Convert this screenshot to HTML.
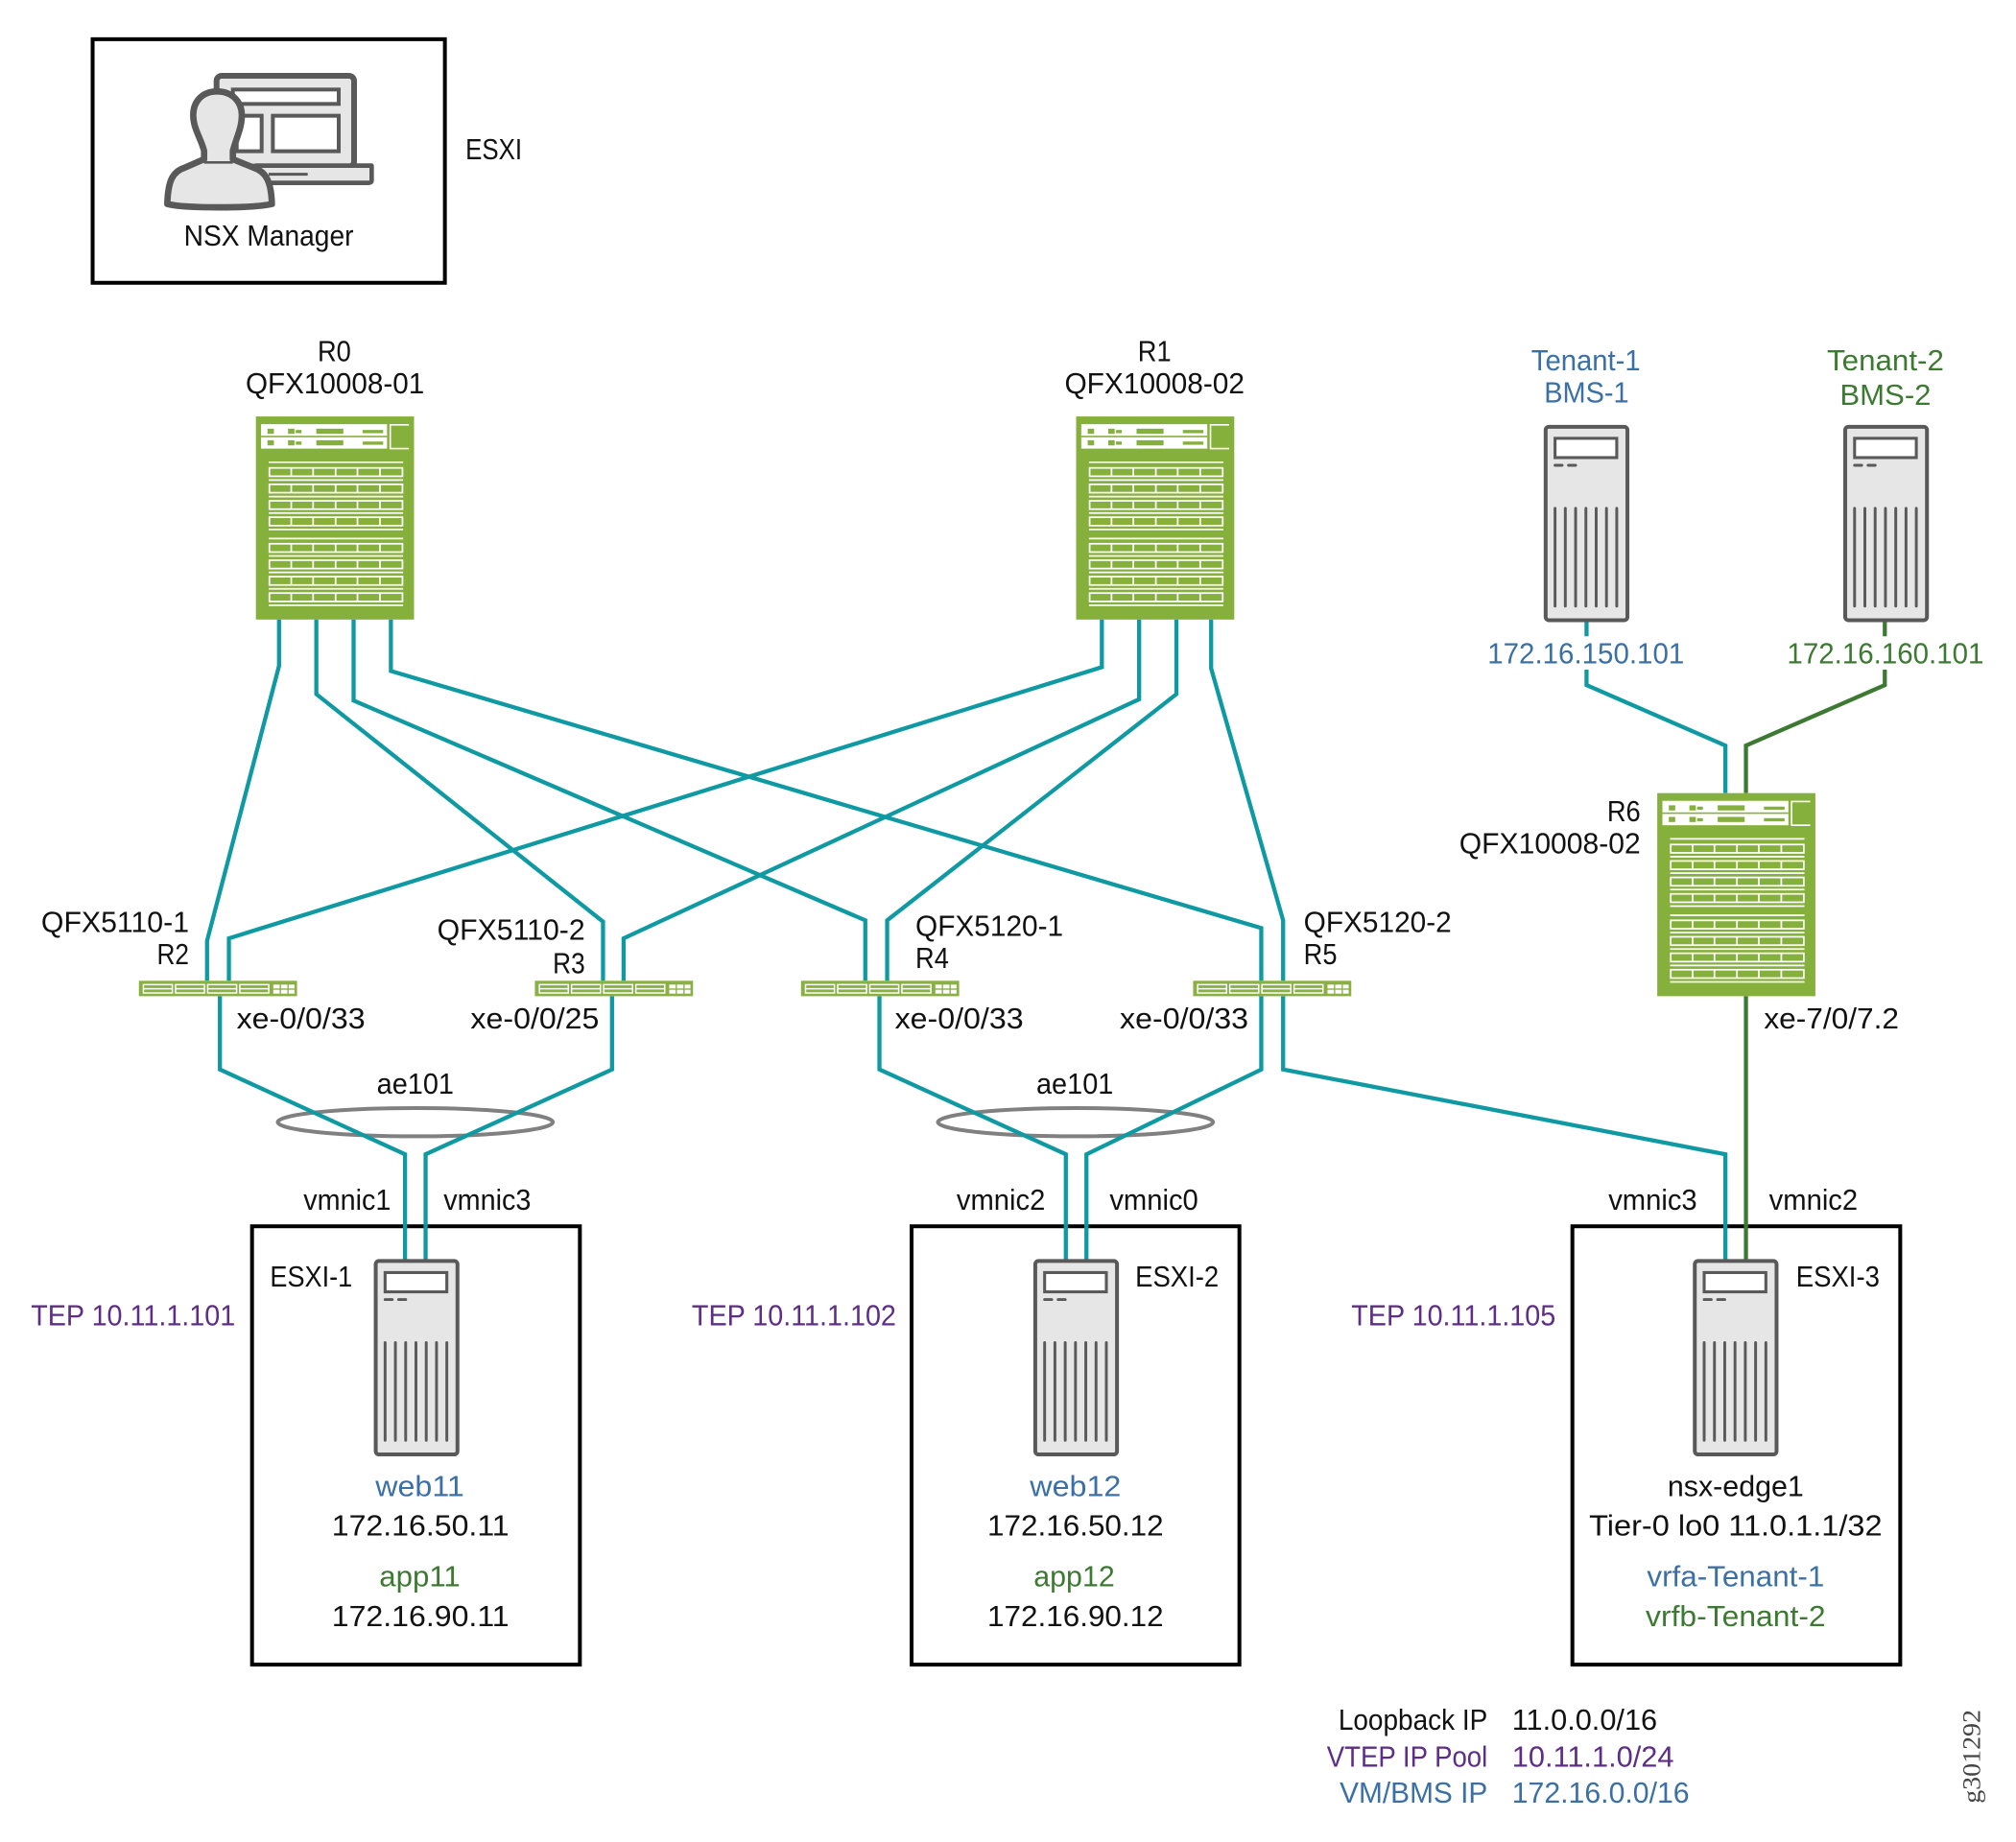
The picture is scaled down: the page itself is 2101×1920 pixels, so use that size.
<!DOCTYPE html>
<html><head><meta charset="utf-8"><style>
html,body{margin:0;padding:0;background:#fff}
svg{display:block}
text{font-family:"Liberation Sans",sans-serif;font-size:23px;fill:#111}
.b{fill:#3b70a6}.g{fill:#3c7a32}.p{fill:#5e2d87}
.t{fill:none;stroke:#0f9aa3;stroke-width:3.2}
.dg{fill:none;stroke:#3c7a32;stroke-width:3.2}
.box{fill:#fff;stroke:#000;stroke-width:3}
</style></head><body>
<svg xmlns="http://www.w3.org/2000/svg" width="2101" height="1920" viewBox="0 0 1568 1433">
<defs>
<g id="row"><rect x="10.5" y="0" width="103.5" height="6.5" fill="none" stroke="#fff" stroke-width="1.3"/>
<path d="M27.5 0v6.5M44.5 0v6.5M62 0v6.5M79 0v6.5M96.5 0v6.5" stroke="#fff" stroke-width="1.3"/>
<path d="M10 9.5h104.5" stroke="#fff" stroke-width="1.3"/></g>
<g id="chassis">
<rect width="123" height="158" fill="#85b03c"/>
<rect x="4" y="6" width="98" height="19" fill="#fff"/>
<rect x="4" y="15" width="98" height="1.2" fill="#85b03c"/>
<g fill="#85b03c">
<rect x="9" y="9.5" width="5" height="4"/><rect x="25" y="9.5" width="5" height="4"/><rect x="31" y="10.5" width="4.5" height="2.5"/><rect x="47" y="9.5" width="21" height="4"/><rect x="83" y="10.5" width="16" height="2.5"/>
<rect x="9" y="18.5" width="5" height="4"/><rect x="25" y="18.5" width="5" height="4"/><rect x="31" y="19.5" width="4.5" height="2.5"/><rect x="47" y="18.5" width="21" height="4"/><rect x="83" y="19.500" width="16" height="2.5"/>
</g>
<path d="M119 6.500h-14.500v18.500h14.500" fill="none" stroke="#fff" stroke-width="1.2"/>
<path d="M10 35.600h104.500M10 95h104.500" stroke="#fff" stroke-width="1.3"/>
<use href="#row" y="40"/><use href="#row" y="52.800"/><use href="#row" y="65.600"/><use href="#row" y="78.400"/>
<use href="#row" y="99"/><use href="#row" y="111.800"/><use href="#row" y="124.600"/><use href="#row" y="137.400"/>
</g>
<g id="sw">
<rect width="123" height="12" fill="#8ab042"/>
<g fill="none" stroke="#fff" stroke-width="1.1">
<rect x="3.500" y="3" width="22.500" height="6.500"/><rect x="28.500" y="3" width="22.500" height="6.500"/><rect x="53.500" y="3" width="22.500" height="6.500"/><rect x="78.500" y="3" width="22.500" height="6.500"/>
<path d="M3.500 6.200h22.500M28.500 6.200h22.500M53.500 6.200h22.500M78.500 6.200h22.500"/>
</g>
<g fill="#fff"><rect x="104.500" y="3" width="5" height="3"/><rect x="110.500" y="3" width="5" height="3"/><rect x="116.500" y="3" width="4.500" height="3"/><rect x="104.500" y="7" width="5" height="3"/><rect x="110.500" y="7" width="5" height="3"/><rect x="116.500" y="7" width="4.500" height="3"/></g>
</g>
<g id="srv">
<rect x="1.200" y="1" width="63.600" height="150.500" rx="2.500" fill="#e6e6e6" stroke="#595959" stroke-width="3"/>
<rect x="8.500" y="10" width="48" height="15" fill="#fff" stroke="#595959" stroke-width="2.300"/>
<path d="M8.500 31h5.500M19 31h5.500" stroke="#595959" stroke-width="2.200" stroke-linecap="round"/>
<path d="M8.500 64.500v76M16.500 64.500v76M24.500 64.500v76M32.500 64.500v76M40.500 64.500v76M48.500 64.500v76M56.500 64.500v76" stroke="#595959" stroke-width="2.200" stroke-linecap="round"/>
</g>
</defs>

<rect x="72" y="30.500" width="274" height="189.500" class="box"/>
<g transform="scale(.7463) translate(60,20) scale(.3333)">
<rect x="497" y="177" width="430" height="284" rx="16" fill="#e6e6e6" stroke="#595959" stroke-width="18"/>
<path d="M620 458H982V504Q982 512 972 512H640Z" fill="#e6e6e6" stroke="#595959" stroke-width="14" stroke-linejoin="round"/>
<path d="M660 485H782" stroke="#595959" stroke-width="9"/>
<rect x="548" y="220" width="331" height="45" fill="#fff" stroke="#595959" stroke-width="12"/>
<rect x="560" y="302" width="78" height="111" fill="#fff" stroke="#595959" stroke-width="12"/>
<rect x="673" y="302" width="206" height="111" fill="#fff" stroke="#595959" stroke-width="12"/>
<path d="M498 226C450 226 424 260 424 300C424 342 448 372 458 412V438L398 464C360 476 345 505 343 578C400 592 610 592 670 578C668 505 650 476 612 464L548 438V412C558 372 576 342 576 300C576 260 548 226 498 226Z" fill="#e6e6e6" stroke="#595959" stroke-width="20" stroke-linejoin="round"/>
<path d="M458 448H548" fill="none" stroke="#595959" stroke-width="8"/>
</g>

<g class="t">
<path d="M217 482V518L161 732V763"/>
<path d="M246 482V540L469 717V763"/>
<path d="M275 482V545L673 716V763"/>
<path d="M304 482V522L981 722V763"/>
<path d="M857 482V519L178 730V763"/>
<path d="M886 482V544L485 730V763"/>
<path d="M915 482V540L690 716V763"/>
<path d="M942 482V520L998 716V763"/>
<path d="M1234 483V495M1234 521V533L1342 580V617"/>
</g>
<path class="dg" d="M1466 483V495M1466 521V533L1358 580V617"/>

<ellipse cx="323" cy="873" rx="107" ry="11" fill="none" stroke="#808080" stroke-width="3"/>
<ellipse cx="836.500" cy="873" rx="107" ry="11" fill="none" stroke="#808080" stroke-width="3"/>

<rect x="196" y="954" width="255" height="341" class="box"/>
<rect x="709" y="954" width="255" height="341" class="box"/>
<rect x="1223" y="954" width="255" height="341" class="box"/>

<g class="t">
<path d="M171 775V832L315 898V980"/>
<path d="M476 775V832L331 898V980"/>
<path d="M684 775V832L829 898V980"/>
<path d="M981 775V832L845 898V980"/>
<path d="M998 775V832L1342 898V980"/>
</g>
<path class="dg" d="M1358 775V980"/>

<use href="#chassis" x="199" y="324"/>
<use href="#chassis" x="837" y="324"/>
<use href="#chassis" x="1289" y="617"/>
<use href="#sw" x="108" y="763"/>
<use href="#sw" x="416" y="763"/>
<use href="#sw" x="623" y="763"/>
<use href="#sw" x="928" y="763"/>
<use href="#srv" x="1201" y="331"/>
<use href="#srv" x="1434" y="331"/>
<use href="#srv" x="291" y="980"/>
<use href="#srv" x="804" y="980"/>
<use href="#srv" x="1317" y="980"/>

<g>
<text x="362" y="124" textLength="44" lengthAdjust="spacingAndGlyphs">ESXI</text>
<text x="143" y="191" textLength="132" lengthAdjust="spacingAndGlyphs">NSX Manager</text>
<text x="247" y="281" textLength="26" lengthAdjust="spacingAndGlyphs">R0</text>
<text x="191" y="306" textLength="139" lengthAdjust="spacingAndGlyphs">QFX10008-01</text>
<text x="885" y="281" textLength="26" lengthAdjust="spacingAndGlyphs">R1</text>
<text x="828" y="306" textLength="140" lengthAdjust="spacingAndGlyphs">QFX10008-02</text>
<text class="b" x="1191" y="288" textLength="85" lengthAdjust="spacingAndGlyphs">Tenant-1</text>
<text class="b" x="1201" y="313" textLength="66" lengthAdjust="spacingAndGlyphs">BMS-1</text>
<text class="g" x="1421" y="288" textLength="91" lengthAdjust="spacingAndGlyphs">Tenant-2</text>
<text class="g" x="1431" y="315" textLength="71" lengthAdjust="spacingAndGlyphs">BMS-2</text>
<text class="b" x="1157" y="516" textLength="153" lengthAdjust="spacingAndGlyphs">172.16.150.101</text>
<text class="g" x="1390" y="516" textLength="153" lengthAdjust="spacingAndGlyphs">172.16.160.101</text>
<text x="1250" y="639" textLength="26" lengthAdjust="spacingAndGlyphs">R6</text>
<text x="1135" y="664" textLength="141" lengthAdjust="spacingAndGlyphs">QFX10008-02</text>
<text x="32" y="725" textLength="115" lengthAdjust="spacingAndGlyphs">QFX5110-1</text>
<text x="122" y="750" textLength="25" lengthAdjust="spacingAndGlyphs">R2</text>
<text x="340" y="731" textLength="115" lengthAdjust="spacingAndGlyphs">QFX5110-2</text>
<text x="430" y="757" textLength="25" lengthAdjust="spacingAndGlyphs">R3</text>
<text x="712" y="728" textLength="115" lengthAdjust="spacingAndGlyphs">QFX5120-1</text>
<text x="712" y="753" textLength="26" lengthAdjust="spacingAndGlyphs">R4</text>
<text x="1014" y="725" textLength="115" lengthAdjust="spacingAndGlyphs">QFX5120-2</text>
<text x="1014" y="750" textLength="26" lengthAdjust="spacingAndGlyphs">R5</text>
<text x="184" y="800" textLength="100" lengthAdjust="spacingAndGlyphs">xe-0/0/33</text>
<text x="366" y="800" textLength="100" lengthAdjust="spacingAndGlyphs">xe-0/0/25</text>
<text x="696" y="800" textLength="100" lengthAdjust="spacingAndGlyphs">xe-0/0/33</text>
<text x="871" y="800" textLength="100" lengthAdjust="spacingAndGlyphs">xe-0/0/33</text>
<text x="1372" y="800" textLength="105" lengthAdjust="spacingAndGlyphs">xe-7/0/7.2</text>
<text x="293" y="851" textLength="60" lengthAdjust="spacingAndGlyphs">ae101</text>
<text x="806" y="851" textLength="60" lengthAdjust="spacingAndGlyphs">ae101</text>
<text x="236" y="941" textLength="68" lengthAdjust="spacingAndGlyphs">vmnic1</text>
<text x="345" y="941" textLength="68" lengthAdjust="spacingAndGlyphs">vmnic3</text>
<text x="744" y="941" textLength="69" lengthAdjust="spacingAndGlyphs">vmnic2</text>
<text x="863" y="941" textLength="69" lengthAdjust="spacingAndGlyphs">vmnic0</text>
<text x="1251" y="941" textLength="69" lengthAdjust="spacingAndGlyphs">vmnic3</text>
<text x="1376" y="941" textLength="69" lengthAdjust="spacingAndGlyphs">vmnic2</text>
<text x="210" y="1001" textLength="64" lengthAdjust="spacingAndGlyphs">ESXI-1</text>
<text x="883" y="1001" textLength="65" lengthAdjust="spacingAndGlyphs">ESXI-2</text>
<text x="1397" y="1001" textLength="65" lengthAdjust="spacingAndGlyphs">ESXI-3</text>
<text class="p" x="24" y="1031" textLength="159" lengthAdjust="spacingAndGlyphs">TEP 10.11.1.101</text>
<text class="p" x="538" y="1031" textLength="159" lengthAdjust="spacingAndGlyphs">TEP 10.11.1.102</text>
<text class="p" x="1051" y="1031" textLength="159" lengthAdjust="spacingAndGlyphs">TEP 10.11.1.105</text>
<text class="b" x="292" y="1164" textLength="69" lengthAdjust="spacingAndGlyphs">web11</text>
<text x="258" y="1194.500" textLength="138" lengthAdjust="spacingAndGlyphs">172.16.50.11</text>
<text class="g" x="295" y="1234" textLength="63" lengthAdjust="spacingAndGlyphs">app11</text>
<text x="258" y="1265" textLength="138" lengthAdjust="spacingAndGlyphs">172.16.90.11</text>
<text class="b" x="801" y="1164" textLength="71" lengthAdjust="spacingAndGlyphs">web12</text>
<text x="768" y="1194.500" textLength="137" lengthAdjust="spacingAndGlyphs">172.16.50.12</text>
<text class="g" x="804" y="1234" textLength="63" lengthAdjust="spacingAndGlyphs">app12</text>
<text x="768" y="1265" textLength="137" lengthAdjust="spacingAndGlyphs">172.16.90.12</text>
<text x="1297" y="1164" textLength="106" lengthAdjust="spacingAndGlyphs">nsx-edge1</text>
<text x="1236" y="1194.500" textLength="228" lengthAdjust="spacingAndGlyphs">Tier-0 lo0 11.0.1.1/32</text>
<text class="b" x="1281" y="1234" textLength="138" lengthAdjust="spacingAndGlyphs">vrfa-Tenant-1</text>
<text class="g" x="1280" y="1265" textLength="140" lengthAdjust="spacingAndGlyphs">vrfb-Tenant-2</text>
<text x="1041" y="1345.500" textLength="116" lengthAdjust="spacingAndGlyphs">Loopback IP</text>
<text class="p" x="1032" y="1374.500" textLength="125" lengthAdjust="spacingAndGlyphs">VTEP IP Pool</text>
<text class="b" x="1042" y="1402.500" textLength="115" lengthAdjust="spacingAndGlyphs">VM/BMS IP</text>
<text x="1176" y="1345.500" textLength="113" lengthAdjust="spacingAndGlyphs">11.0.0.0/16</text>
<text class="p" x="1176" y="1374.500" textLength="126" lengthAdjust="spacingAndGlyphs">10.11.1.0/24</text>
<text class="b" x="1176" y="1402.500" textLength="138" lengthAdjust="spacingAndGlyphs">172.16.0.0/16</text>
<text transform="translate(1540,1403) rotate(-90)" x="0" y="0" textLength="73" lengthAdjust="spacingAndGlyphs" style="font-family:'Liberation Serif',serif;font-size:20px;fill:#444">g301292</text>
</g>
</svg>
</body></html>
